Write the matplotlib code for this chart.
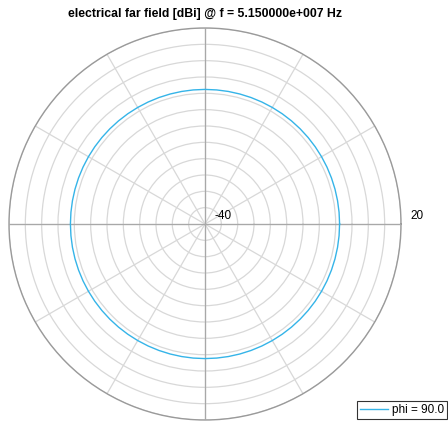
"""
electrical far field, polar cut at phi = 90
"""
import numpy as np
import matplotlib.pyplot as plt

plt.rcParams['font.family'] = ['Liberation Sans', 'DejaVu Sans']

# ----- data (theta every 5 deg, gain in dBi) -----
theta_deg = list(range(0, 365, 5))
gain_dbi = [1.2, 1.2, 1.2, 1.2, 1.2, 1.2, 1.2, 1.2, 1.2, 1.2, 1.2, 1.2,
            1.2, 1.2, 1.2, 1.2, 1.2, 1.2, 1.2, 1.2, 1.2, 1.2, 1.2, 1.2,
            1.2, 1.2, 1.2, 1.2, 1.2, 1.2, 1.2, 1.2, 1.2, 1.2, 1.2, 1.2,
            1.2, 1.2, 1.2, 1.2, 1.2, 1.2, 1.2, 1.2, 1.2, 1.2, 1.2, 1.2,
            1.2, 1.2, 1.2, 1.2, 1.2, 1.2, 1.2, 1.2, 1.2, 1.2, 1.2, 1.2,
            1.2, 1.2, 1.2, 1.2, 1.2, 1.2, 1.2, 1.2, 1.2, 1.2, 1.2, 1.2,
            1.2]
r_min, r_max = -40, 20
r_rings = [-35, -30, -25, -20, -15, -10, -5, 0, 5, 10, 15, 20]
spokes_deg = [0, 30, 60, 90, 120, 150, 180, 210, 240, 270, 300, 330]

fig = plt.figure(figsize=(4.48, 4.23), dpi=100)
ax = fig.add_axes([9/448, 3/423, 392/448, 392/423], projection='polar')

th = np.deg2rad(theta_deg)
line, = ax.plot(th, gain_dbi, color='#35b4e8', lw=1.0, label='phi = 90.0', zorder=5)

ax.set_rlim(r_min, r_max)
ax.set_rticks(r_rings)
ax.set_thetagrids(spokes_deg)
ax.set_yticklabels([])
ax.set_xticklabels([])
ax.grid(True, color='#d8d8d8', lw=0.9)
ax.spines['polar'].set_color('#9a9a9a')
ax.spines['polar'].set_linewidth(1.0)

# darker x / y axis lines through the centre
for a in [0, 90, 180, 270]:
    ax.plot([np.deg2rad(a), np.deg2rad(a)], [r_min, r_max], color='#a8a8a8', lw=0.9, zorder=3)

ax.text(np.deg2rad(24), -34, '-40', fontsize=8.5, ha='center', va='center')
ax.text(np.deg2rad(2.2), 24.9, '20', fontsize=8.5, ha='center', va='center', clip_on=False)

ax.set_title('electrical far field [dBi] @ f = 5.150000e+007 Hz',
             fontsize=8.8, fontweight='bold', pad=8)

leg = fig.legend(handles=[line], loc='lower left', bbox_to_anchor=(357/448, 4/423),
                 fontsize=8.5, frameon=True, fancybox=False, borderpad=0.25,
                 handlelength=2.4, handletextpad=0.35, borderaxespad=0)
leg.get_frame().set_edgecolor('black')
leg.get_frame().set_linewidth(0.8)

fig.savefig('out.png', dpi=100)
